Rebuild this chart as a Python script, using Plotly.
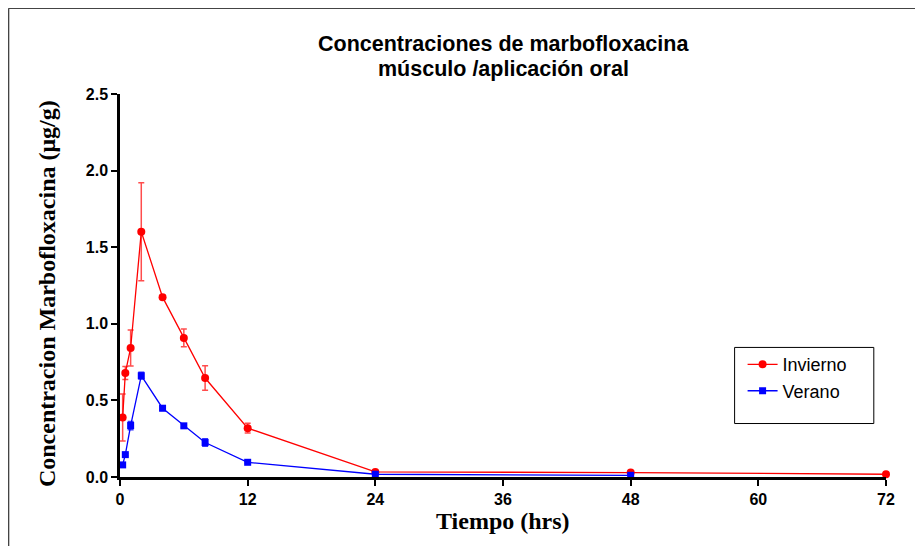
import plotly.graph_objects as go

# Data
time_invierno = [0.25, 0.5, 1, 2, 4, 6, 8, 12, 24, 48, 72]
invierno = [0.388, 0.679, 0.842, 1.601, 1.174, 0.908, 0.646, 0.319, 0.033, 0.029, 0.018]
invierno_err = [0.153, 0.042, 0.117, 0.32, 0.012, 0.058, 0.08, 0.032, 0.005, 0.004, 0.003]

time_verano = [0.25, 0.5, 1, 2, 4, 6, 8, 12, 24, 48]
verano = [0.079, 0.146, 0.336, 0.661, 0.449, 0.334, 0.225, 0.096, 0.018, 0.011]
verano_err = [0.005, 0.008, 0.027, 0.022, 0.015, 0.010, 0.024, 0.006, 0.004, 0.003]

x_ticks = [0, 12, 24, 36, 48, 60, 72]
y_ticks = [0.0, 0.5, 1.0, 1.5, 2.0, 2.5]

# page body adds an 8px offset; work in screen pixels and convert
OFF = 8
W, H = 923 - OFF, 546 - OFF
L, R, T, B = 120 - OFF, 36.5, 94.2 - OFF, 69.3
PW = W - L - R
PH = H - T - B


def px(X):
    return (X - OFF - L) / PW


def py(Y):
    return (H - B - (Y - OFF)) / PH


fig = go.Figure()
fig.add_trace(go.Scatter(
    x=time_invierno, y=invierno, name="Invierno", mode="lines+markers",
    line=dict(color="#ff0000", width=1.3),
    marker=dict(symbol="circle", size=8, color="#ff0000"),
    error_y=dict(type="data", array=invierno_err, color="#ff4d4d", thickness=1.5, width=3),
    cliponaxis=False,
))
fig.add_trace(go.Scatter(
    x=time_verano, y=verano, name="Verano", mode="lines+markers",
    line=dict(color="#0000ff", width=1.3),
    marker=dict(symbol="square", size=7, color="#0000ff"),
    error_y=dict(type="data", array=verano_err, color="#3333ff", thickness=1.5, width=3),
    cliponaxis=False,
))

tickfont = dict(family="Liberation Sans, Arial, sans-serif", size=16, color="black")
fig.update_xaxes(
    range=[0, 72], tickvals=x_ticks, ticktext=[f"<b>{v}</b>" for v in x_ticks],
    showline=True, linecolor="black", linewidth=2.5,
    ticks="outside", ticklen=6, tickwidth=2, tickcolor="black",
    showgrid=False, zeroline=False, tickfont=tickfont,
)
fig.update_yaxes(
    range=[0, 2.5], tickvals=y_ticks, ticktext=[f"<b>{v:.1f}</b>" for v in y_ticks],
    showline=True, linecolor="black", linewidth=2.5,
    ticks="outside", ticklen=6, tickwidth=2, tickcolor="black",
    showgrid=False, zeroline=False, tickfont=tickfont,
)

title_font = dict(family="Liberation Sans, Arial, sans-serif", size=21.5, color="black")
axis_title_font = dict(family="Liberation Serif, Times New Roman, serif", size=24, color="black")

annotations = [
    dict(text="<b>Concentraciones de marbofloxacina</b>", x=px(504), y=py(44),
         xref="paper", yref="paper", showarrow=False, xanchor="center", yanchor="middle",
         font=title_font),
    dict(text="<b>músculo /aplicación oral</b>", x=px(504), y=py(69.5),
         xref="paper", yref="paper", showarrow=False, xanchor="center", yanchor="middle",
         font=title_font),
    dict(text="<b>Tiempo (hrs)</b>", x=px(503), y=py(521),
         xref="paper", yref="paper", showarrow=False, xanchor="center", yanchor="middle",
         font=axis_title_font),
    dict(text="<b>Concentracion Marbofloxacina (μg/g)</b>", x=px(47), y=py(294),
         xref="paper", yref="paper", showarrow=False, xanchor="center", yanchor="middle",
         textangle=-90, font=axis_title_font),
]

shapes = [
    # outer frame (top and left edges)
    dict(type="line", xref="paper", yref="paper", x0=px(8.5), y0=py(8.5), x1=px(923), y1=py(8.5),
         line=dict(color="#444444", width=1.5)),
    dict(type="line", xref="paper", yref="paper", x0=px(8.5), y0=py(8.5), x1=px(8.5), y1=py(546),
         line=dict(color="#444444", width=1.5)),
    # legend box
    dict(type="rect", xref="paper", yref="paper", x0=px(735), y0=py(347.3), x1=px(874.3), y1=py(423.3),
         line=dict(color="black", width=1), fillcolor="white", layer="below"),
]

fig.update_layout(
    width=W, height=H,
    margin=dict(l=L, r=R, t=T, b=B, pad=0),
    paper_bgcolor="white", plot_bgcolor="white",
    showlegend=True,
    legend=dict(
        x=px(743), y=py(346), xanchor="left", yanchor="top",
        bgcolor="rgba(0,0,0,0)", borderwidth=0,
        font=dict(family="Liberation Sans, Arial, sans-serif", size=18, color="black"),
        tracegroupgap=0, itemwidth=30,
    ),
    annotations=annotations,
    shapes=shapes,
)

fig.write_html("out.html")
